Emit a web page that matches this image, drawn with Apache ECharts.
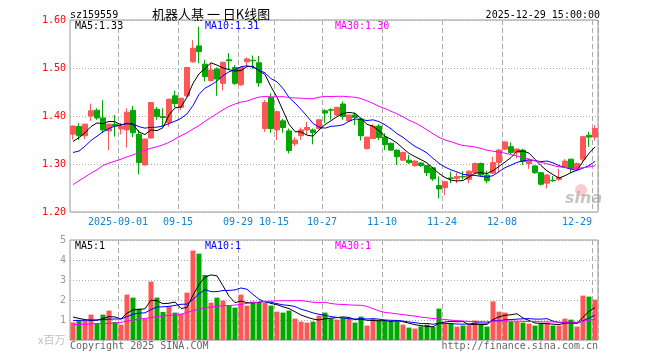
<!DOCTYPE html>
<html><head><meta charset="utf-8">
<script src="https://cdn.jsdelivr.net/npm/echarts@6/dist/echarts.min.js"></script>
<style>html,body{margin:0;padding:0;background:#fff}#c{width:660px;height:360px}</style>
</head><body><div id="c"></div>
<script>
const dates = [
'2025-08-20','2025-08-21','2025-08-22','2025-08-25','2025-08-26','2025-08-27','2025-08-28','2025-08-29',
'2025-09-01','2025-09-02','2025-09-03','2025-09-04','2025-09-05','2025-09-08','2025-09-09','2025-09-10','2025-09-11','2025-09-12',
'2025-09-15','2025-09-16','2025-09-17','2025-09-18','2025-09-19','2025-09-22','2025-09-23','2025-09-24','2025-09-25','2025-09-26',
'2025-09-29','2025-09-30','2025-10-09','2025-10-10','2025-10-13','2025-10-14','2025-10-15','2025-10-16','2025-10-17',
'2025-10-20','2025-10-21','2025-10-22','2025-10-23','2025-10-24','2025-10-27','2025-10-28','2025-10-29','2025-10-30','2025-10-31',
'2025-11-03','2025-11-04','2025-11-05','2025-11-06','2025-11-07','2025-11-10','2025-11-11','2025-11-12','2025-11-13','2025-11-14',
'2025-11-17','2025-11-18','2025-11-19','2025-11-20','2025-11-21','2025-11-24','2025-11-25','2025-11-26','2025-11-27','2025-11-28',
'2025-12-01','2025-12-02','2025-12-03','2025-12-04','2025-12-05','2025-12-08','2025-12-09','2025-12-10','2025-12-11','2025-12-12',
'2025-12-15','2025-12-16','2025-12-17','2025-12-18','2025-12-19','2025-12-22','2025-12-23','2025-12-24','2025-12-25','2025-12-26',
'2025-12-29'];

// [open, close, low, high]
const ohlc = [
[1.362,1.379,1.351,1.380],[1.378,1.359,1.350,1.385],[1.359,1.383,1.352,1.384],[1.400,1.411,1.390,1.426],[1.412,1.396,1.392,1.416],
[1.396,1.371,1.364,1.433],[1.369,1.383,1.329,1.384],[1.383,1.379,1.357,1.402],[1.373,1.379,1.362,1.386],[1.371,1.408,1.334,1.416],
[1.412,1.365,1.356,1.421],[1.362,1.303,1.278,1.371],[1.298,1.352,1.297,1.353],[1.354,1.428,1.353,1.429],[1.414,1.399,1.392,1.419],
[1.399,1.397,1.378,1.416],[1.386,1.435,1.378,1.436],[1.442,1.426,1.418,1.453],[1.418,1.437,1.412,1.438],[1.442,1.501,1.439,1.502],
[1.513,1.541,1.511,1.558],[1.546,1.534,1.510,1.586],[1.508,1.482,1.472,1.517],[1.474,1.496,1.472,1.511],[1.498,1.477,1.442,1.501],
[1.468,1.512,1.453,1.513],[1.517,1.515,1.497,1.531],[1.501,1.468,1.465,1.506],[1.465,1.501,1.463,1.502],[1.513,1.519,1.503,1.522],
[1.516,1.515,1.498,1.526],[1.511,1.469,1.461,1.525],[1.374,1.428,1.367,1.433],[1.439,1.374,1.365,1.447],[1.371,1.409,1.350,1.411],
[1.390,1.376,1.365,1.394],[1.369,1.328,1.322,1.374],[1.342,1.350,1.337,1.356],[1.359,1.371,1.350,1.376],[1.371,1.376,1.360,1.388],
[1.371,1.365,1.341,1.374],[1.374,1.392,1.372,1.394],[1.411,1.406,1.385,1.414],[1.413,1.412,1.392,1.416],[1.402,1.418,1.400,1.419],
[1.425,1.399,1.392,1.430],[1.390,1.402,1.388,1.403],[1.402,1.397,1.381,1.407],[1.394,1.359,1.349,1.396],[1.332,1.356,1.330,1.357],
[1.353,1.379,1.352,1.383],[1.379,1.355,1.350,1.383],[1.356,1.340,1.329,1.364],[1.343,1.329,1.327,1.345],[1.329,1.315,1.298,1.330],
[1.308,1.324,1.306,1.326],[1.308,1.303,1.300,1.319],[1.297,1.306,1.294,1.308],[1.302,1.297,1.294,1.304],[1.297,1.282,1.275,1.298],
[1.292,1.269,1.265,1.294],[1.255,1.248,1.228,1.274],[1.251,1.263,1.235,1.265],[1.271,1.270,1.260,1.284],[1.270,1.274,1.260,1.282],
[1.274,1.273,1.268,1.285],[1.268,1.285,1.260,1.287],[1.282,1.301,1.281,1.303],[1.301,1.277,1.274,1.303],[1.277,1.265,1.260,1.286],
[1.281,1.303,1.279,1.315],[1.303,1.329,1.284,1.331],[1.331,1.346,1.329,1.347],[1.336,1.324,1.319,1.345],[1.324,1.331,1.312,1.332],
[1.329,1.305,1.298,1.332],[1.301,1.307,1.290,1.310],[1.296,1.282,1.279,1.297],[1.282,1.258,1.255,1.283],[1.260,1.277,1.249,1.279],
[1.266,1.265,1.263,1.275],[1.268,1.272,1.265,1.290],[1.294,1.306,1.291,1.310],[1.310,1.291,1.281,1.311],[1.290,1.301,1.288,1.303],
[1.310,1.357,1.303,1.358],[1.360,1.356,1.336,1.367],[1.356,1.374,1.349,1.381]];

// volume, millions
const volume = [
0.88,0.98,0.98,1.27,0.85,1.27,1.47,0.90,0.77,2.27,
2.12,1.57,1.07,2.92,2.12,1.40,1.68,1.37,1.32,2.37,
4.47,4.32,3.25,1.87,2.12,1.97,1.75,1.62,2.27,1.72,
1.92,1.90,1.88,1.72,1.42,1.37,1.47,1.07,0.92,0.87,
0.92,1.22,1.37,1.07,1.02,1.10,1.07,0.87,1.17,0.72,
1.05,0.98,0.95,0.92,0.95,0.77,0.62,0.57,0.68,0.77,
0.65,1.57,0.82,0.85,0.67,0.72,0.73,0.97,0.80,0.67,
1.93,1.42,1.37,0.92,0.92,0.87,0.82,0.72,0.82,0.87,
0.72,0.72,1.07,1.02,0.67,2.22,2.17,2.02];

// moving-average values at the left edge (history before the window)
const ma5Lead  = [1.347,1.355,1.365,1.378];
const ma10Lead = [1.324,1.327,1.337,1.349,1.358,1.367,1.374,1.379,1.381];
const ma30Lead = [1.257,1.265,1.273,1.281,1.288,1.297,1.302,1.306,1.310,1.315,1.319,1.324,1.329,1.333,1.336,
                  1.340,1.345,1.352,1.359,1.365,1.373,1.380,1.389,1.397,1.405,1.413,1.420,1.425,1.429];
const vma5Lead  = [1.15,1.08,1.02,0.98];
const vma10Lead = [0.98,0.98,0.99,1.00,1.00,1.02,1.04,1.05,1.05];
const vma30Lead = [0.77,0.78,0.78,0.80,0.82,0.82,0.83,0.85,0.88,0.95,1.00,1.05,1.08,1.12,1.17,
                   1.20,1.23,1.25,1.28,1.38,1.47,1.55,1.60,1.65,1.68,1.72,1.72,1.75,1.78];

const tickDates  = ['2025-09-01','2025-09-15','2025-09-29','2025-10-15','2025-10-27','2025-11-10','2025-11-24','2025-12-08','2025-12-29'];
const tickLabels = ['2025-09-01','09-15','09-29','10-15','10-27','11-10','11-24','12-08','12-29'];

const RED = '#ff5656', GREEN = '#00a800';
const MONO = 'DejaVu Sans Mono';

function ma(vals, n, lead) {
  return vals.map((v, i) => {
    if (i < n - 1) return lead[i];
    let s = 0; for (let k = i - n + 1; k <= i; k++) s += vals[k];
    return +(s / n).toFixed(4);
  });
}
const closes = ohlc.map(d => d[1]);
const ma5 = ma(closes, 5, ma5Lead), ma10 = ma(closes, 10, ma10Lead), ma30 = ma(closes, 30, ma30Lead);
const vma5 = ma(volume, 5, vma5Lead), vma10 = ma(volume, 10, vma10Lead), vma30 = ma(volume, 30, vma30Lead);

const isTick = (i) => tickDates.indexOf(dates[i]) >= 0;
const lastIdx = dates.length - 1;

const chart = echarts.init(document.getElementById('c'), null, {renderer: 'canvas'});
const lineS = (name, data, color, xi, yi) => ({
  name, type: 'line', data, xAxisIndex: xi, yAxisIndex: yi, symbol: 'none', silent: true,
  lineStyle: {width: 1, color}, z: 5
});
const splitV = {show: true, interval: (i) => isTick(i), lineStyle: {color: '#aaa', type: [5, 3], width: 1}};

const option = {
  animation: false,
  backgroundColor: '#fff',
  grid: [
    {left: 70, top: 20, width: 528, height: 192, show: true, borderColor: '#999', borderWidth: 1, z: 0},
    {left: 70, top: 240, width: 528, height: 100, show: true, borderColor: '#999', borderWidth: 1, z: 0}
  ],
  xAxis: [
    {type: 'category', gridIndex: 0, data: dates, boundaryGap: true,
     axisLine: {show: false}, axisTick: {show: false}, splitLine: splitV,
     axisLabel: {
       interval: (i) => isTick(i), margin: 5,
       formatter: (v) => {
         const t = tickLabels[tickDates.indexOf(v)];
         return (v === dates[lastIdx] ? '{b|' : '{a|') + t + '}';
       },
       rich: {
         a: {padding: [0, 6, 0, 0], fontFamily: MONO, fontSize: 10, color: '#1482d2'},
         b: {padding: [0, 36, 0, 0], fontFamily: MONO, fontSize: 10, color: '#1482d2'}
       }
     }},
    {type: 'category', gridIndex: 1, data: dates, boundaryGap: true,
     axisLine: {show: false}, axisTick: {show: false}, axisLabel: {show: false}, splitLine: splitV}
  ],
  yAxis: [
    {type: 'value', gridIndex: 0, min: 1.2, max: 1.6, interval: 0.1, scale: true,
     axisLine: {show: false}, axisTick: {show: false},
     axisLabel: {color: '#ff0000', fontFamily: MONO, fontSize: 10, margin: 4, formatter: (v) => v.toFixed(2)},
     splitLine: {show: true, lineStyle: {color: '#aaa', type: [1, 2], width: 1}}},
    {type: 'value', gridIndex: 1, min: 0, max: 5, interval: 1,
     axisLine: {show: false}, axisTick: {show: false},
     axisLabel: {color: '#999', fontFamily: MONO, fontSize: 10, margin: 4, formatter: (v) => v === 0 ? '' : String(v)},
     splitLine: {show: true, lineStyle: {color: '#aaa', type: [1, 2], width: 1}}}
  ],
  series: [
    {name: 'K', type: 'candlestick', xAxisIndex: 0, yAxisIndex: 0, barWidth: 5, silent: true,
     data: ohlc.map(d => [d[0], d[1], d[2], d[3]]),
     itemStyle: {color: RED, color0: GREEN, borderColor: RED, borderColor0: GREEN, borderWidth: 1}, z: 3},
    lineS('MA5', ma5, '#000000', 0, 0),
    lineS('MA10', ma10, '#0000ff', 0, 0),
    lineS('MA30', ma30, '#ff00ff', 0, 0),
    {name: 'VOL', type: 'bar', xAxisIndex: 1, yAxisIndex: 1, barWidth: 5, silent: true,
     data: volume.map((v, i) => ({value: v, itemStyle: {color: ohlc[i][1] >= ohlc[i][0] ? RED : GREEN}})), z: 3},
    lineS('VMA5', vma5, '#000000', 1, 1),
    lineS('VMA10', vma10, '#0000ff', 1, 1),
    lineS('VMA30', vma30, '#ff00ff', 1, 1)
  ],
  graphic: [
    {type: 'text', left: 70, top: 10, style: {text: 'sz159559', font: '10px "DejaVu Sans Mono"', fill: '#000'}},
    {type: 'text', left: 152, top: 8, style: {text: '机器人基 一 日K线图', font: '13px "Noto Sans CJK SC"', fill: '#000'}},
    {type: 'text', right: 60, top: 10, style: {text: '2025-12-29 15:00:00', font: '10px "DejaVu Sans Mono"', fill: '#000'}},
    {type: 'text', left: 75, top: 21, z: 10, style: {text: 'MA5:1.33', font: '10px "DejaVu Sans Mono"', fill: '#000'}},
    {type: 'text', left: 205, top: 21, z: 10, style: {text: 'MA10:1.31', font: '10px "DejaVu Sans Mono"', fill: '#0000ff'}},
    {type: 'text', left: 335, top: 21, z: 10, style: {text: 'MA30:1.30', font: '10px "DejaVu Sans Mono"', fill: '#ff00ff'}},
    {type: 'text', left: 75, top: 241, z: 10, style: {text: 'MA5:1', font: '10px "DejaVu Sans Mono"', fill: '#000'}},
    {type: 'text', left: 205, top: 241, z: 10, style: {text: 'MA10:1', font: '10px "DejaVu Sans Mono"', fill: '#0000ff'}},
    {type: 'text', left: 335, top: 241, z: 10, style: {text: 'MA30:1', font: '10px "DejaVu Sans Mono"', fill: '#ff00ff'}},
    {type: 'text', left: 38, top: 334, style: {text: 'x百万', font: '11px "Noto Sans CJK SC"', fill: '#c0c0c0'}},
    {type: 'text', left: 70, top: 341, style: {text: 'Copyright 2025 SINA.COM', font: '10px "DejaVu Sans Mono"', fill: '#666'}},
    {type: 'text', right: 62, top: 341, style: {text: 'http://finance.sina.com.cn', font: '10px "DejaVu Sans Mono"', fill: '#666'}},
    {type: 'circle', shape: {cx: 581, cy: 190, r: 6}, style: {fill: 'rgba(240,110,110,0.35)'}, z: 1},
    {type: 'text', left: 565, top: 191, z: 1, style: {text: 'sina', font: 'italic bold 16px "DejaVu Sans"', fill: 'rgba(150,150,150,0.55)'}}
  ]
};
chart.setOption(option);
</script>
</body></html>
